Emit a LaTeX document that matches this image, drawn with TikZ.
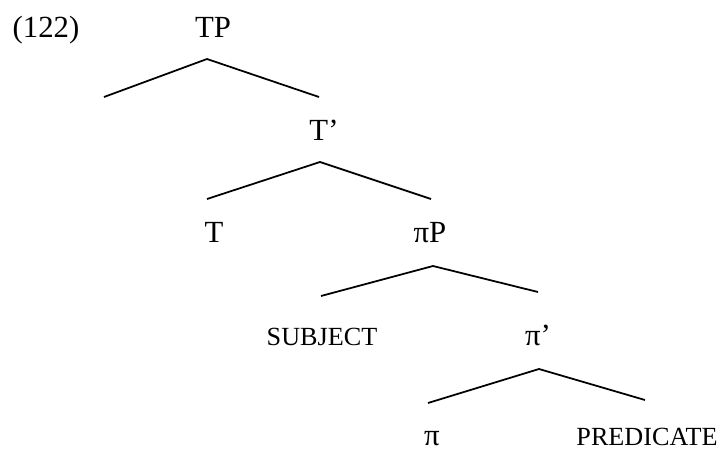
\documentclass[tikz,border=0pt]{standalone}
\usepackage{fontspec}
\setmainfont{Liberation Serif}
\usepackage{tikz}
\usetikzlibrary{positioning,calc}

\begin{document}
\begin{tikzpicture}[x=0.02cm,y=-0.02cm,
    cat/.style={anchor=base,inner sep=0pt,font=\fontsize{17.5}{19}\selectfont},
    lex/.style={anchor=base,inner sep=0pt,font=\fontsize{14.9}{17}\selectfont},
    branch/.style={line width=1pt}]
            \useasboundingbox (0,0) rectangle (718,450);
            \node[cat] (Num) at (46,37) {(122)};
            \node[cat] (TP) at (213,37) {TP};
            \node[cat] (Tbar) at (324,140) {T’};
            \node[cat] (T) at (214,242) {T};
            \node[cat] (piP) at (430,242) {πP};
            \node[lex] (Subj) at (322,345) {SUBJECT};
            \node[cat] (pibar) at (538,345) {π’};
            \node[cat] (pi) at (432,445) {π};
            \node[lex] (Pred) at (647,445) {PREDICATE};
            % branch ends
            \coordinate (TPtop) at (207,59);
            \coordinate (TPl) at (104,97);
            \coordinate (TPr) at (319,97);
            \coordinate (Tbartop) at (320,162);
            \coordinate (Tbarl) at (207,199);
            \coordinate (Tbarr) at (431,199);
            \coordinate (piPtop) at (433,266);
            \coordinate (piPl) at (321,296);
            \coordinate (piPr) at (538,292);
            \coordinate (pibartop) at (539,369);
            \coordinate (pibarl) at (428,403);
            \coordinate (pibarr) at (645,400);
            \draw[branch] (TPl) -- (TPtop) -- (TPr);
            \draw[branch] (Tbarl) -- (Tbartop) -- (Tbarr);
            \draw[branch] (piPl) -- (piPtop) -- (piPr);
            \draw[branch] (pibarl) -- (pibartop) -- (pibarr);
        \end{tikzpicture}
\end{document}
